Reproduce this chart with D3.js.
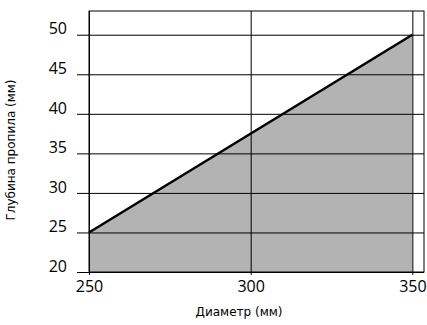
<!DOCTYPE html>
<html lang="ru">
  <head>
    <meta charset="utf-8">
    <title>Глубина пропила</title>
    <script src="https://d3js.org/d3.v7.min.js"></script>
    <style>
      body { margin: 0; background: #fff; }
      text { font-family: "Open Sans", sans-serif; fill: #000; }
    </style>
  </head>
  <body>
    <div id="chart"></div>
    <script type="text/javascript">
      // diameter (mm) -> cut depth (mm)
      const diameters = [250, 350];
      const depths = [25, 50];
      const xTicks = [250, 300, 350];
      const yTicks = [20, 25, 30, 35, 40, 45, 50];

      function drawChart() {
          let svgWidth = 427,
              svgHeight = 325;

          let margin = { top: 11, right: 3, bottom: 53, left: 89 },
              width = svgWidth - margin.left - margin.right,
              height = svgHeight - margin.top - margin.bottom;

          let svg = d3.select("#chart")
              .append("svg")
              .attr("width", svgWidth)
              .attr("height", svgHeight)
              .append("g")
              .attr("transform", "translate(" + margin.left + "," + margin.top + ")");

          let x = d3.scaleLinear()
              .domain([250, 353.6])
              .range([0, width]);

          let y = d3.scaleLinear()
              .domain([20, 53])
              .range([height, 0]);

          let points = diameters.map((d, i) => ({ x: d, y: depths[i] }));

          // filled area under the line
          svg.append("path")
              .datum(points)
              .attr("fill", "#b3b3b3")
              .attr("d", d3.area()
                  .x(d => x(d.x))
                  .y0(y(20))
                  .y1(d => y(d.y)));

          // horizontal grid + left ticks
          svg.append("g")
              .attr("transform", "translate(-12,0)")
              .call(d3.axisLeft(y).tickValues(yTicks).tickSize(-width - 12).tickPadding(10))
              .call(g => g.select(".domain").remove())
              .call(g => g.selectAll(".tick line").attr("stroke", "#000"))
              .call(g => g.selectAll(".tick text")
                  .attr("x", -10)
                  .attr("dy", "-0.05em")
                  .attr("font-size", 16)
                  .attr("font-family", "Open Sans"));

          // vertical grid + bottom ticks
          svg.append("g")
              .attr("transform", "translate(0," + height + ")")
              .call(d3.axisBottom(x).tickValues(xTicks).tickSize(-height).tickPadding(6))
              .call(g => g.select(".domain").remove())
              .call(g => g.selectAll(".tick line").attr("stroke", "#000").attr("y1", 3))
              .call(g => g.selectAll(".tick text")
                  .attr("y", 9)
                  .attr("font-size", 16)
                  .attr("font-family", "Open Sans"));

          // plot frame
          svg.append("rect")
              .attr("x", 0)
              .attr("y", 0)
              .attr("width", width)
              .attr("height", height)
              .attr("fill", "none")
              .attr("stroke", "#000");

          // the line itself
          svg.append("path")
              .datum(points)
              .attr("fill", "none")
              .attr("stroke", "#000")
              .attr("stroke-width", 2.5)
              .attr("d", d3.line()
                  .x(d => x(d.x))
                  .y(d => y(d.y)));

          // axis titles
          svg.append("text")
              .attr("x", 150)
              .attr("y", height + 44)
              .attr("text-anchor", "middle")
              .attr("font-size", 12)
              .style("font-family", "DejaVu Sans")
              .text("Диаметр (мм)");

          svg.append("text")
              .attr("transform", "translate(" + (-74) + "," + (139) + ") rotate(-90)")
              .attr("text-anchor", "middle")
              .attr("font-size", 12)
              .style("font-family", "DejaVu Sans")
              .text("Глубина пропила (мм)");
      }

      drawChart();
    </script>
  </body>
</html>
